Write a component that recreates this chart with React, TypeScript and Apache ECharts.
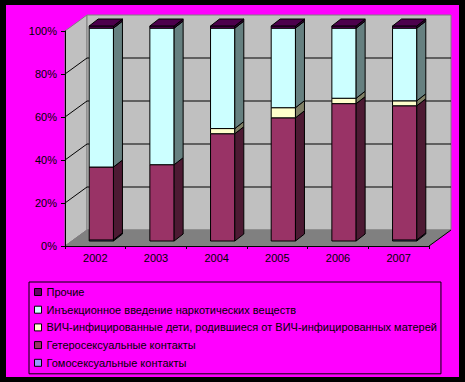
import React, { useEffect, useRef } from "react";
import * as echarts from "echarts";

const years = ["2002", "2003", "2004", "2005", "2006", "2007"];
const yTicks = [0, 20, 40, 60, 80, 100];

const homosexual = [0.5, 0, 0, 0, 0, 0.5];
const heterosexual = [33.9, 35.5, 49.9, 57.3, 63.9, 62.4];
const children = [0, 0, 2.4, 4.7, 2.5, 2.3];
const injection = [64.6, 63.5, 46.7, 37.0, 32.6, 33.8];
const other = [1, 1, 1, 1, 1, 1];

const nameHomo = "Гомосексуальные контакты";
const nameHetero = "Гетеросексуальные контакты";
const nameChildren = "ВИЧ-инфицированные дети, родившиеся от ВИЧ-инфицированных матерей";
const nameInjection = "Инъекционное введение наркотических веществ";
const nameOther = "Прочие";

const stackOrder = [
  { name: nameHomo, values: homosexual, color: "#9999FF", side: "#4D4D80", top: "#7A7ACC" },
  { name: nameHetero, values: heterosexual, color: "#993366", side: "#4D1A33", top: "#7A2952" },
  { name: nameChildren, values: children, color: "#FFFFCC", side: "#808066", top: "#CCCCA3" },
  { name: nameInjection, values: injection, color: "#CCFFFF", side: "#668080", top: "#A3CCCC" },
  { name: nameOther, values: other, color: "#660066", side: "#330033", top: "#4D004D" },
];
const legendOrder = [nameOther, nameInjection, nameChildren, nameHetero, nameHomo];

// 3D geometry (pixels)
const WALL_DX = 22;
const WALL_DY = 16;
const BAR_OX = 6;
const BAR_OY = -5;
const BAR_DX = 9;
const BAR_DY = 7;

export default function App() {
  const ref = useRef<HTMLDivElement>(null);
  useEffect(() => {
    if (!ref.current) return;
    const chart = echarts.init(ref.current, undefined, { renderer: "svg" });

    const cum = years.map(() => 0);
    const barSeries = stackOrder.map((s, si) => {
      const data = years.map((_, i) => {
        const lo = cum[i];
        const hi = lo + s.values[i];
        cum[i] = hi;
        return [i, lo, hi];
      });
      const isTop = si === stackOrder.length - 1;
      return {
        type: "custom",
        name: s.name,
        z: 3,
        color: s.color,
        itemStyle: { color: s.color },
        encode: { x: 0, y: [1, 2] },
        data,
        renderItem: (params: any, api: any) => {
          const cat = api.value(0);
          const lo = api.value(1);
          const hi = api.value(2);
          if (hi - lo <= 0) return { type: "group", children: [] };
          const pLo = api.coord([cat, lo]);
          const pHi = api.coord([cat, hi]);
          const w = api.size([1, 0])[0] * 0.4;
          const x0 = pLo[0] + BAR_OX - w / 2;
          const x1 = x0 + w;
          const yb = pLo[1] + BAR_OY;
          const yt = pHi[1] + BAR_OY;
          const stroke = { stroke: "#000", lineWidth: 1 };
          const children: any[] = [
            { type: "rect", shape: { x: x0, y: yt, width: w, height: yb - yt }, style: { fill: s.color, ...stroke } },
            {
              type: "polygon",
              shape: { points: [[x1, yb], [x1 + BAR_DX, yb - BAR_DY], [x1 + BAR_DX, yt - BAR_DY], [x1, yt]] },
              style: { fill: s.side, ...stroke },
            },
          ];
          if (isTop) {
            children.push({
              type: "polygon",
              shape: { points: [[x0, yt], [x0 + BAR_DX, yt - BAR_DY], [x1 + BAR_DX, yt - BAR_DY], [x1, yt]] },
              style: { fill: s.top, ...stroke },
            });
          }
          return { type: "group", children };
        },
      };
    });

    const colorOf: Record<string, string> = {};
    stackOrder.forEach((s) => (colorOf[s.name] = s.color));

    chart.setOption({
      animation: false,
      backgroundColor: "#FF00FF",
      grid: { left: 59, right: 30, top: 26, bottom: 131, containLabel: false },
      xAxis: {
        type: "category",
        data: years,
        z: 5,
        boundaryGap: true,
        axisLine: { show: true, lineStyle: { color: "#000", width: 1 } },
        axisTick: { show: true, length: 3, lineStyle: { color: "#000" } },
        axisLabel: { color: "#000", fontSize: 11, fontFamily: "Liberation Sans", margin: 6 },
        splitLine: { show: false },
      },
      yAxis: {
        type: "value",
        min: 0,
        max: 100,
        interval: 20,
        z: 5,
        axisLine: { show: true, lineStyle: { color: "#000", width: 1 } },
        axisTick: { show: true, length: 4, lineStyle: { color: "#000" } },
        axisLabel: { color: "#000", fontSize: 11, fontFamily: "Liberation Sans", margin: 8, formatter: "{value}%" },
        splitLine: { show: false },
      },
      legend: {
        data: legendOrder.map((n) => ({
          name: n,
          itemStyle: { color: colorOf[n], borderColor: "#000", borderWidth: 1 },
        })),
        orient: "vertical",
        left: 23,
        top: 277,
        itemWidth: 7,
        itemHeight: 7,
        itemGap: 5.7,
        padding: [4, 4, 5, 5],
        backgroundColor: "#FF00FF",
        borderColor: "#000",
        borderWidth: 1,
        icon: "rect",
        selectedMode: false,
        textStyle: { fontSize: 11, color: "#000", fontFamily: "Liberation Sans", lineHeight: 12 },
      },
      series: barSeries,
    });

    // Walls, floor and gridlines, positioned through the chart's own axes
    const px = (c: number, v: number) =>
      chart.convertToPixel({ xAxisIndex: 0, yAxisIndex: 0 }, [c, v]) as number[];
    const band = px(1, 0)[0] - px(0, 0)[0];
    const gx = px(0, 0)[0] - band / 2;
    const gw = band * years.length;
    const y0 = px(0, 0)[1];
    const y100 = px(0, 100)[1];
    const bx0 = gx + WALL_DX;
    const bx1 = gx + gw + WALL_DX;
    const els: any[] = [
      {
        type: "polygon",
        z: 1,
        silent: true,
        shape: { points: [[gx, y100], [bx0, y100 - WALL_DY], [bx0, y0 - WALL_DY], [gx, y0]] },
        style: { fill: "#C0C0C0", stroke: "#808080", lineWidth: 1 },
      },
      {
        type: "polygon",
        z: 1,
        silent: true,
        shape: { points: [[bx0, y100 - WALL_DY], [bx1, y100 - WALL_DY], [bx1, y0 - WALL_DY], [bx0, y0 - WALL_DY]] },
        style: { fill: "#C0C0C0", stroke: "#808080", lineWidth: 1 },
      },
      {
        type: "polygon",
        z: 1,
        silent: true,
        shape: { points: [[gx, y0], [bx0, y0 - WALL_DY], [bx1, y0 - WALL_DY], [gx + gw, y0]] },
        style: { fill: "#808080", stroke: "#808080", lineWidth: 1 },
      },
      {
        type: "line",
        z: 1,
        silent: true,
        shape: { x1: gx + gw, y1: y0, x2: bx1, y2: y0 - WALL_DY },
        style: { stroke: "#000", lineWidth: 1 },
      },
    ];
    yTicks.slice(1, -1).forEach((v) => {
      const y = px(0, v)[1];
      els.push({
        type: "line",
        z: 1,
        silent: true,
        shape: { x1: gx, y1: y, x2: bx0, y2: y - WALL_DY },
        style: { stroke: "#000", lineWidth: 1 },
      });
      els.push({
        type: "line",
        z: 1,
        silent: true,
        shape: { x1: bx0, y1: y - WALL_DY, x2: bx1, y2: y - WALL_DY },
        style: { stroke: "#000", lineWidth: 1 },
      });
    });
    chart.setOption({ graphic: { elements: els } });

    return () => chart.dispose();
  }, []);
  return (
    <div style={{ position: "fixed", left: 0, top: 0, width: 465, height: 382, background: "#000" }}>
      <div
        ref={ref}
        style={{ position: "absolute", left: 6, top: 5, width: 453, height: 372 }}
      />
    </div>
  );
}
